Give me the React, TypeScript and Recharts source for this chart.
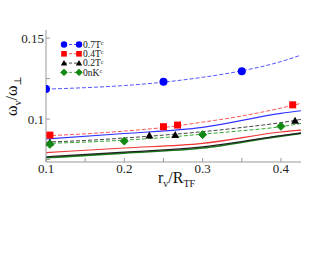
import { ComposedChart, Line, Scatter, XAxis, YAxis } from "recharts";

// measured points
const pts07 = [
  { x: 0.1, y: 0.1185 },
  { x: 0.25, y: 0.123 },
  { x: 0.35, y: 0.1296 },
];
const pts04 = [
  { x: 0.105, y: 0.0901 },
  { x: 0.25, y: 0.0953 },
  { x: 0.268, y: 0.0963 },
  { x: 0.415, y: 0.1088 },
];
const pts02 = [
  { x: 0.105, y: 0.0856 },
  { x: 0.232, y: 0.0898 },
  { x: 0.265, y: 0.0901 },
  { x: 0.418, y: 0.099 },
];
const pts0 = [
  { x: 0.105, y: 0.0844 },
  { x: 0.2, y: 0.0864 },
  { x: 0.3, y: 0.0904 },
  { x: 0.4, y: 0.0955 },
];

// dashed fits
const fit07 = [
  { x: 0.1, y: 0.1185 }, { x: 0.15, y: 0.1194 }, { x: 0.2, y: 0.1207 }, { x: 0.25, y: 0.1228 },
  { x: 0.3, y: 0.1258 }, { x: 0.35, y: 0.1298 }, { x: 0.4, y: 0.1355 }, { x: 0.4256, y: 0.1395 },
];
const fit04 = [
  { x: 0.1, y: 0.0897 }, { x: 0.15, y: 0.0909 }, { x: 0.2, y: 0.0926 }, { x: 0.25, y: 0.0948 },
  { x: 0.3, y: 0.0981 }, { x: 0.35, y: 0.1019 }, { x: 0.4, y: 0.1068 }, { x: 0.4256, y: 0.1097 },
];
const fit02 = [
  { x: 0.1, y: 0.0858 }, { x: 0.15, y: 0.0868 }, { x: 0.2, y: 0.0883 }, { x: 0.25, y: 0.0901 },
  { x: 0.3, y: 0.0922 }, { x: 0.35, y: 0.0948 }, { x: 0.4, y: 0.0978 }, { x: 0.4256, y: 0.0998 },
];
const fit0 = [
  { x: 0.1, y: 0.085 }, { x: 0.15, y: 0.0858 }, { x: 0.2, y: 0.087 }, { x: 0.25, y: 0.0886 },
  { x: 0.3, y: 0.0907 }, { x: 0.35, y: 0.0928 }, { x: 0.4, y: 0.0953 }, { x: 0.4256, y: 0.0973 },
];

// solid theory curves
const solBlue = [
  { x: 0.1, y: 0.0877 }, { x: 0.2, y: 0.0911 }, { x: 0.3, y: 0.0949 }, { x: 0.4, y: 0.1035 }, { x: 0.4256, y: 0.1051 },
];
const solRed = [
  { x: 0.1, y: 0.0793 }, { x: 0.2, y: 0.0821 }, { x: 0.3, y: 0.085 }, { x: 0.4, y: 0.092 }, { x: 0.4256, y: 0.0932 },
];
const solBlack = [
  { x: 0.1, y: 0.0767 }, { x: 0.2, y: 0.0796 }, { x: 0.3, y: 0.0829 }, { x: 0.4, y: 0.0898 }, { x: 0.4256, y: 0.0914 },
];
const solGreen = [
  { x: 0.1, y: 0.0761 }, { x: 0.2, y: 0.079 }, { x: 0.3, y: 0.0821 }, { x: 0.4, y: 0.0895 }, { x: 0.4256, y: 0.0911 },
];

const xTicks = [0.1, 0.15, 0.2, 0.25, 0.3, 0.35, 0.4];
const xMajor = [0.1, 0.2, 0.3, 0.4];
const yTicks = [0.075, 0.1, 0.125, 0.15];
const yMajor = [0.1, 0.15];

const legendItems = [
  { name: "0.7T", color: "#0000ff", shape: "circle" },
  { name: "0.4T", color: "#ff0000", shape: "square" },
  { name: "0.2T", color: "#000000", shape: "triangle" },
  { name: "0nK", color: "#118811", shape: "diamond" },
];

const FONT = "'Liberation Serif', 'DejaVu Serif', serif";
const FRAME = "#999";

function Marker({ cx, cy, shape, color, s = 1 }: any) {
  if (cx == null || cy == null) return null;
  if (shape === "circle") return <circle cx={cx} cy={cy} r={4 * s} fill={color} />;
  if (shape === "square") return <rect x={cx - 3.5 * s} y={cy - 3.5 * s} width={7 * s} height={7 * s} fill={color} />;
  if (shape === "triangle")
    return <polygon points={`${cx},${cy - 4 * s} ${cx + 4 * s},${cy + 3 * s} ${cx - 4 * s},${cy + 3 * s}`} fill={color} />;
  return (
    <polygon
      points={`${cx},${cy - 4 * s} ${cx + 4 * s},${cy} ${cx},${cy + 4 * s} ${cx - 4 * s},${cy}`}
      fill={color}
      stroke={color}
      strokeWidth={1}
      strokeLinejoin="round"
    />
  );
}

const mk = (shape: string, color: string) => (p: any) => <Marker cx={p.cx} cy={p.cy} shape={shape} color={color} />;

function XTick({ x, y, payload, orientation }: any) {
  const v = payload.value;
  const major = xMajor.some((m) => Math.abs(m - v) < 1e-6);
  if (orientation === "top") {
    return <line x1={x} x2={x} y1={y} y2={y + 4} stroke={FRAME} />;
  }
  return (
    <g>
      <line x1={x} x2={x} y1={y} y2={y - 4} stroke={FRAME} />
      {major && (
        <text x={x} y={y + 2} dy="0.71em" textAnchor="middle" fontSize={13} fontFamily={FONT} fill="#222">
          {String(v)}
        </text>
      )}
    </g>
  );
}

function YTick({ x, y, payload, orientation }: any) {
  const v = payload.value;
  const major = yMajor.some((m) => Math.abs(m - v) < 1e-6);
  if (orientation === "right") {
    return <line x1={x} x2={x - 4} y1={y} y2={y} stroke={FRAME} />;
  }
  return (
    <g>
      <line x1={x} x2={x + 4} y1={y} y2={y} stroke={FRAME} />
      {major && (
        <text x={x - 2} y={y} dy="0.36em" textAnchor="end" fontSize={13} fontFamily={FONT} fill="#222">
          {String(v)}
        </text>
      )}
    </g>
  );
}

function YTitle({ viewBox }: any) {
  const cx = viewBox.x + 11;
  const cy = viewBox.y + viewBox.height / 2;
  return (
    <text x={cx} y={cy} transform={`rotate(-90 ${cx} ${cy})`} textAnchor="middle" dy="0.35em" fontSize={16} fontFamily={FONT} fill="#111">
      ω<tspan fontSize={10} dy={4}>v</tspan>
      <tspan dy={-4}>/ω</tspan>
      <tspan fontSize={10} dy={4}>⊥</tspan>
    </text>
  );
}

function XTitle({ viewBox }: any) {
  const cx = viewBox.x + viewBox.width / 2 + 3;
  const cy = viewBox.y + 21;
  return (
    <text x={cx} y={cy} textAnchor="middle" fontSize={16} fontFamily={FONT} fill="#111">
      r<tspan fontSize={10} dy={4}>v</tspan>
      <tspan dy={-4}>/R</tspan>
      <tspan fontSize={10} dy={4}>TF</tspan>
    </text>
  );
}

function LegendBox() {
  return (
    <svg width={60} height={42} style={{ position: "absolute", left: 56, top: 38 }}>
      {legendItems.map((it, i) => {
        const y = 6.5 + i * 9.3;
        return (
          <g key={it.name}>
            <line x1={8} x2={23} y1={y} y2={y} stroke={it.color} strokeDasharray="3 2" strokeOpacity={0.7} />
            <Marker cx={8} cy={y} shape={it.shape} color={it.color} s={0.8} />
            <Marker cx={23} cy={y} shape={it.shape} color={it.color} s={0.8} />
            <text x={27} y={y} dy="0.33em" fontSize={9.5} fontFamily={FONT} fill="#111">
              {it.name}
              <tspan fontSize={6} dy={-2.5}>c</tspan>
            </text>
          </g>
        );
      })}
    </svg>
  );
}

export default function App() {
  return (
    <div style={{ position: "absolute", left: 0, top: 0, width: 330, height: 255, background: "#fff" }}>
      <ComposedChart width={330} height={255} margin={{ top: 30, right: 29, left: 0, bottom: 63 }}>
        <XAxis
          type="number"
          dataKey="x"
          domain={[0.1, 0.4256]}
          ticks={xTicks}
          allowDataOverflow
          height={30}
          tickSize={0}
          tickMargin={0}
          tickLine={false}
          axisLine={{ stroke: FRAME }}
          tick={<XTick />}
          interval={0}
          label={<XTitle />}
        />
        <XAxis
          xAxisId="top"
          orientation="top"
          type="number"
          dataKey="x"
          domain={[0.1, 0.4256]}
          ticks={xTicks}
          allowDataOverflow
          height={0}
          tickSize={0}
          tickMargin={0}
          tickLine={false}
          axisLine={{ stroke: FRAME }}
          tick={<XTick />}
          interval={0}
        />
        <YAxis
          type="number"
          domain={[0.0735, 0.155]}
          ticks={yTicks}
          allowDataOverflow
          width={46}
          tickSize={0}
          tickMargin={0}
          tickLine={false}
          axisLine={{ stroke: FRAME }}
          tick={<YTick />}
          interval={0}
          label={<YTitle />}
        />
        <YAxis
          yAxisId="right"
          orientation="right"
          type="number"
          domain={[0.0735, 0.155]}
          ticks={yTicks}
          allowDataOverflow
          width={0}
          tickSize={0}
          tickMargin={0}
          tickLine={false}
          axisLine={{ stroke: FRAME }}
          tick={<YTick />}
          interval={0}
        />
        <Line data={solGreen} dataKey="y" stroke="#1a7a1a" strokeWidth={1.6} dot={false} legendType="none" isAnimationActive={false} type="monotone" />
        <Line data={solBlack} dataKey="y" stroke="#222" strokeWidth={1.3} dot={false} legendType="none" isAnimationActive={false} type="monotone" />
        <Line data={solRed} dataKey="y" stroke="#ee3333" strokeWidth={1.1} dot={false} legendType="none" isAnimationActive={false} type="monotone" />
        <Line data={solBlue} dataKey="y" stroke="#3333ff" strokeWidth={1.1} dot={false} legendType="none" isAnimationActive={false} type="monotone" />
        <Line data={fit0} dataKey="y" stroke="#33aa33" strokeDasharray="4 2" strokeWidth={1} dot={false} legendType="none" isAnimationActive={false} type="monotone" />
        <Line data={fit02} dataKey="y" stroke="#444" strokeDasharray="4 2" strokeWidth={1} dot={false} legendType="none" isAnimationActive={false} type="monotone" />
        <Line data={fit04} dataKey="y" stroke="#ff5555" strokeDasharray="4 2" strokeWidth={1} dot={false} legendType="none" isAnimationActive={false} type="monotone" />
        <Line data={fit07} dataKey="y" stroke="#5555ff" strokeDasharray="4 2" strokeWidth={1} dot={false} legendType="none" isAnimationActive={false} type="monotone" />
        <Scatter name="0.7T" data={pts07} dataKey="y" shape={mk("circle", "#0000ff")} isAnimationActive={false} />
        <Scatter name="0.4T" data={pts04} dataKey="y" shape={mk("square", "#ff0000")} isAnimationActive={false} />
        <Scatter name="0.2T" data={pts02} dataKey="y" shape={mk("triangle", "#000000")} isAnimationActive={false} />
        <Scatter name="0nK" data={pts0} dataKey="y" shape={mk("diamond", "#118811")} isAnimationActive={false} />
      </ComposedChart>
      <LegendBox />
    </div>
  );
}
